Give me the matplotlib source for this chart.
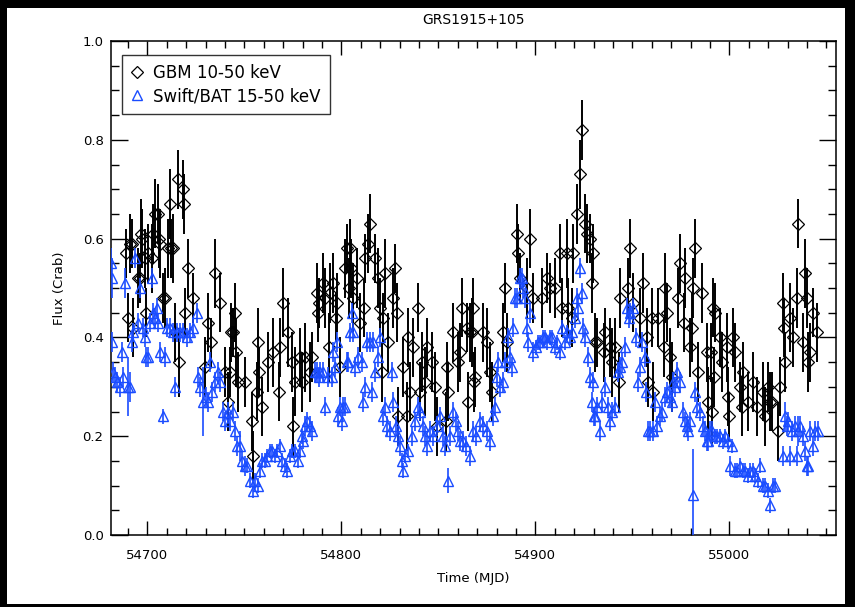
import matplotlib
matplotlib.use("Agg")
import matplotlib.pyplot as plt
from matplotlib.patches import Rectangle
from matplotlib.lines import Line2D
from matplotlib.ticker import MultipleLocator, FormatStrFormatter

# ---------------- data ----------------
TITLE = "GRS1915+105"
XLABEL = "Time (MJD)"
YLABEL = "Flux (Crab)"
GBM_LABEL = "GBM 10-50 keV"
BAT_LABEL = "Swift/BAT 15-50 keV"
X_TICKS = [54700, 54800, 54900, 55000]
Y_TICKS = [0.0, 0.2, 0.4, 0.6, 0.8, 1.0]

gbm_t = [
    54689.2, 54690.2, 54691.2, 54692.3, 54692.8, 54695.4, 54696.4, 54696.9, 54697.4, 54699.0,
    54699.5, 54700.5, 54702.6, 54703.1, 54704.1, 54705.7, 54706.2, 54706.7, 54708.2, 54709.3,
    54710.8, 54711.9, 54712.4, 54713.4, 54714.4, 54716.0, 54716.5, 54718.6, 54719.1, 54719.6,
    54721.1, 54723.7, 54729.9, 54731.4, 54733.0, 54735.1, 54737.6, 54740.2, 54741.8, 54742.8,
    54743.3, 54744.3, 54745.4, 54745.9, 54746.9, 54750.5, 54754.1, 54754.6, 54756.7, 54757.2,
    54757.7, 54759.3, 54762.4, 54765.0, 54768.1, 54768.6, 54770.1, 54772.7, 54774.7, 54775.3,
    54776.3, 54778.9, 54779.9, 54781.4, 54784.0, 54785.1, 54787.6, 54788.2, 54788.7, 54790.7,
    54791.8, 54793.8, 54794.3, 54795.9, 54797.4, 54797.9, 54799.5, 54802.1, 54803.1, 54804.1,
    54804.6, 54805.1, 54806.2, 54808.2, 54809.8, 54811.9, 54812.4, 54813.9, 54815.0, 54817.5,
    54819.1, 54820.1, 54821.2, 54821.7, 54822.7, 54824.3, 54826.8, 54827.8, 54828.9, 54829.4,
    54832.0, 54834.0, 54834.5, 54835.6, 54837.1, 54839.7, 54840.7, 54841.8, 54843.3, 54844.3,
    54846.9, 54848.5, 54849.5, 54854.2, 54854.7, 54855.2, 54857.7, 54860.3, 54861.4, 54862.4,
    54865.0, 54865.5, 54866.5, 54867.5, 54868.1, 54868.6, 54869.1, 54873.2, 54875.3, 54876.8,
    54877.8, 54883.5, 54884.5, 54885.6, 54890.7, 54891.3, 54892.3, 54895.9, 54897.4, 54899.0,
    54903.6, 54906.2, 54907.7, 54910.3, 54912.9, 54913.9, 54916.5, 54917.0, 54919.1, 54919.6,
    54921.7, 54923.2, 54924.2, 54925.8, 54926.8, 54928.4, 54929.4, 54929.9, 54930.9, 54932.0,
    54935.6, 54936.1, 54938.7, 54939.7, 54941.3, 54943.3, 54943.8, 54948.0, 54949.0, 54950.5,
    54954.1, 54955.7, 54957.8, 54958.3, 54960.3, 54960.8, 54963.4, 54966.5, 54967.0, 54968.1,
    54969.6, 54970.6, 54973.7, 54974.8, 54976.8, 54977.3, 54979.9, 54980.9, 54981.5, 54982.5,
    54984.0, 54986.1, 54988.7, 54989.2, 54990.8, 54991.3, 54991.8, 54992.3, 54992.8, 54995.4,
    54996.4, 54999.0, 54999.5, 55000.0, 55002.1, 55003.1, 55005.7, 55006.7, 55007.2, 55009.8,
    55012.4, 55014.5, 55017.5, 55018.6, 55020.1, 55021.2, 55022.2, 55025.3, 55026.3, 55027.9,
    55028.4, 55028.9, 55031.5, 55033.0, 55035.1, 55035.6, 55038.2, 55039.2, 55040.2, 55040.8,
    55041.8, 55043.3, 55045.4,
]
gbm_flux = [
    0.57, 0.44, 0.59, 0.59, 0.42, 0.52, 0.52, 0.61, 0.60, 0.56,
    0.45, 0.57, 0.56, 0.61, 0.65, 0.65, 0.60, 0.59, 0.48, 0.48,
    0.58, 0.67, 0.58, 0.58, 0.41, 0.72, 0.35, 0.70, 0.67, 0.45,
    0.54, 0.48, 0.34, 0.43, 0.39, 0.53, 0.47, 0.33, 0.27, 0.33,
    0.41, 0.41, 0.45, 0.37, 0.31, 0.31, 0.23, 0.16, 0.29, 0.39,
    0.33, 0.26, 0.35, 0.37, 0.29, 0.38, 0.47, 0.41, 0.35, 0.22,
    0.31, 0.36, 0.31, 0.36, 0.33, 0.36, 0.49, 0.45, 0.47, 0.51,
    0.48, 0.38, 0.49, 0.51, 0.44, 0.47, 0.34, 0.54, 0.58, 0.50,
    0.58, 0.54, 0.48, 0.52, 0.43, 0.46, 0.56, 0.59, 0.63, 0.56,
    0.52, 0.46, 0.33, 0.44, 0.53, 0.39, 0.48, 0.54, 0.45, 0.24,
    0.34, 0.24, 0.40, 0.29, 0.38, 0.46, 0.29, 0.35, 0.31, 0.38,
    0.35, 0.30, 0.22, 0.23, 0.34, 0.29, 0.41, 0.35, 0.37, 0.46,
    0.42, 0.27, 0.41, 0.41, 0.46, 0.31, 0.32, 0.41, 0.39, 0.33,
    0.29, 0.41, 0.50, 0.39, 0.61, 0.57, 0.52, 0.50, 0.60, 0.48,
    0.48, 0.52, 0.50, 0.50, 0.57, 0.46, 0.57, 0.46, 0.44, 0.57,
    0.65, 0.73, 0.82, 0.63, 0.61, 0.60, 0.51, 0.57, 0.39, 0.39,
    0.37, 0.41, 0.38, 0.35, 0.38, 0.31, 0.48, 0.50, 0.58, 0.47,
    0.44, 0.51, 0.40, 0.31, 0.44, 0.29, 0.44, 0.38, 0.50, 0.45,
    0.36, 0.32, 0.48, 0.55, 0.43, 0.52, 0.38, 0.42, 0.50, 0.58,
    0.33, 0.49, 0.37, 0.27, 0.37, 0.25, 0.46, 0.32, 0.45, 0.40,
    0.35, 0.38, 0.28, 0.24, 0.40, 0.37, 0.30, 0.26, 0.33, 0.27,
    0.31, 0.26, 0.29, 0.24, 0.30, 0.27, 0.27, 0.21, 0.30, 0.47,
    0.42, 0.35, 0.44, 0.40, 0.48, 0.63, 0.39, 0.53, 0.48, 0.35,
    0.37, 0.45, 0.41,
]
gbm_err = [
    0.05, 0.05, 0.06, 0.05, 0.06, 0.06, 0.05, 0.07, 0.06, 0.06,
    0.05, 0.06, 0.07, 0.06, 0.07, 0.06, 0.06, 0.07, 0.05, 0.06,
    0.06, 0.07, 0.06, 0.07, 0.06, 0.06, 0.07, 0.06, 0.06, 0.05,
    0.06, 0.05, 0.06, 0.06, 0.05, 0.07, 0.06, 0.05, 0.06, 0.05,
    0.06, 0.05, 0.06, 0.07, 0.06, 0.05, 0.06, 0.05, 0.06, 0.07,
    0.05, 0.06, 0.06, 0.07, 0.06, 0.06, 0.07, 0.07, 0.06, 0.06,
    0.07, 0.06, 0.06, 0.07, 0.06, 0.05, 0.06, 0.06, 0.05, 0.06,
    0.06, 0.07, 0.06, 0.06, 0.05, 0.06, 0.06, 0.06, 0.05, 0.06,
    0.06, 0.06, 0.07, 0.06, 0.06, 0.06, 0.05, 0.06, 0.06, 0.05,
    0.06, 0.06, 0.06, 0.05, 0.07, 0.06, 0.06, 0.05, 0.06, 0.06,
    0.06, 0.07, 0.06, 0.06, 0.06, 0.05, 0.06, 0.06, 0.07, 0.06,
    0.06, 0.07, 0.06, 0.06, 0.05, 0.06, 0.06, 0.06, 0.06, 0.06,
    0.05, 0.06, 0.06, 0.07, 0.06, 0.06, 0.06, 0.06, 0.07, 0.06,
    0.06, 0.06, 0.05, 0.06, 0.06, 0.06, 0.05, 0.06, 0.06, 0.05,
    0.06, 0.05, 0.05, 0.06, 0.06, 0.06, 0.07, 0.06, 0.06, 0.06,
    0.06, 0.07, 0.06, 0.06, 0.06, 0.05, 0.06, 0.06, 0.06, 0.05,
    0.06, 0.05, 0.06, 0.07, 0.06, 0.06, 0.06, 0.06, 0.06, 0.06,
    0.06, 0.06, 0.06, 0.05, 0.06, 0.06, 0.06, 0.06, 0.07, 0.06,
    0.06, 0.07, 0.06, 0.06, 0.06, 0.06, 0.06, 0.07, 0.06, 0.06,
    0.06, 0.06, 0.06, 0.07, 0.06, 0.07, 0.06, 0.06, 0.06, 0.06,
    0.06, 0.07, 0.06, 0.05, 0.06, 0.06, 0.05, 0.06, 0.06, 0.06,
    0.06, 0.06, 0.06, 0.06, 0.05, 0.06, 0.06, 0.06, 0.06, 0.06,
    0.06, 0.06, 0.07, 0.06, 0.06, 0.05, 0.06, 0.07, 0.06, 0.06,
    0.06, 0.05, 0.06,
]

bat_t = [
    54681.3, 54681.7, 54682.0, 54682.5, 54683.5, 54684.5, 54686.1, 54687.1, 54687.6, 54688.7,
    54690.2, 54691.2, 54692.3, 54692.8, 54693.8, 54695.4, 54696.4, 54697.9, 54699.0, 54699.5,
    54700.5, 54701.5, 54702.6, 54703.1, 54704.1, 54705.2, 54705.7, 54706.7, 54708.2, 54709.3,
    54710.3, 54711.9, 54713.4, 54714.4, 54715.5, 54717.0, 54718.6, 54720.6, 54722.2, 54723.7,
    54725.8, 54726.3, 54727.3, 54728.9, 54730.4, 54731.4, 54732.5, 54733.5, 54735.1, 54736.6,
    54737.6, 54739.2, 54740.2, 54741.8, 54742.8, 54744.3, 54745.4, 54746.4, 54747.9, 54749.0,
    54750.5, 54751.6, 54753.1, 54754.6, 54755.7, 54757.2, 54758.3, 54759.3, 54760.8, 54761.9,
    54763.4, 54764.4, 54766.0, 54767.0, 54768.6, 54769.6, 54771.1, 54772.2, 54773.7, 54774.7,
    54776.3, 54777.8, 54778.9, 54779.9, 54780.4, 54781.4, 54782.5, 54784.0, 54785.1, 54786.6,
    54787.6, 54788.7, 54789.2, 54790.7, 54791.8, 54793.3, 54795.4, 54795.9, 54796.9, 54797.9,
    54798.5, 54799.5, 54800.5, 54801.0, 54802.1, 54803.1, 54803.6, 54804.6, 54805.7, 54806.2,
    54807.2, 54808.8, 54810.8, 54811.3, 54812.4, 54813.4, 54815.0, 54816.0, 54816.5, 54817.5,
    54819.1, 54820.1, 54821.7, 54822.7, 54823.7, 54825.3, 54826.3, 54826.8, 54828.4, 54829.4,
    54830.4, 54831.5, 54832.0, 54833.0, 54834.5, 54836.6, 54838.2, 54839.7, 54840.7, 54842.3,
    54843.3, 54844.3, 54845.9, 54847.4, 54849.5, 54851.0, 54852.6, 54853.6, 54855.2, 54856.2,
    54857.7, 54859.3, 54860.3, 54861.4, 54862.9, 54864.4, 54866.5, 54868.1, 54869.6, 54871.7,
    54873.2, 54875.3, 54876.8, 54878.4, 54879.4, 54880.4, 54880.9, 54882.0, 54883.5, 54884.5,
    54886.1, 54887.1, 54888.2, 54888.7, 54889.7, 54890.7, 54892.3, 54893.3, 54893.8, 54894.9,
    54895.9, 54896.4, 54897.4, 54899.0, 54900.5, 54901.6, 54902.6, 54904.1, 54905.2, 54906.2,
    54907.7, 54908.8, 54910.3, 54911.4, 54912.9, 54913.9, 54915.5, 54916.5, 54918.1, 54919.1,
    54920.6, 54921.7, 54922.2, 54923.2, 54924.2, 54924.8, 54925.8, 54927.3, 54928.4, 54929.4,
    54929.9, 54930.4, 54930.9, 54932.0, 54933.5, 54934.6, 54936.1, 54937.6, 54938.7, 54939.7,
    54941.3, 54942.8, 54943.8, 54944.9, 54946.4, 54947.4, 54948.5, 54949.0, 54950.5, 54952.1,
    54953.1, 54954.1, 54955.2, 54956.7, 54957.2, 54958.3, 54959.3, 54960.8, 54961.9, 54962.9,
    54964.5, 54965.5, 54967.0, 54968.1, 54969.6, 54970.6, 54971.2, 54972.2, 54973.2, 54974.8,
    54976.3, 54977.3, 54978.4, 54978.9, 54979.9, 54981.5, 54982.5, 54983.5, 54985.1, 54986.6,
    54987.6, 54988.7, 54989.2, 54990.2, 54991.3, 54992.8, 54993.8, 54995.4, 54996.9, 54998.0,
    54999.5, 55000.5, 55001.6, 55003.1, 55004.1, 55005.7, 55007.2, 55008.3, 55009.8, 55010.8,
    55012.4, 55013.4, 55015.0, 55016.0, 55017.5, 55018.6, 55020.1, 55021.2, 55022.7, 55023.7,
    55027.9, 55028.9, 55029.9, 55030.4, 55031.5, 55032.5, 55034.0, 55035.1, 55035.6, 55036.6,
    55038.2, 55039.2, 55040.2, 55040.8, 55041.8, 55043.3, 55044.4, 55045.9,
]
bat_flux = [
    0.55, 0.52, 0.39, 0.33, 0.32, 0.31, 0.30, 0.37, 0.32, 0.51,
    0.30, 0.30, 0.39, 0.41, 0.56, 0.43, 0.50, 0.42, 0.40, 0.36,
    0.36, 0.43, 0.52, 0.45, 0.44, 0.46, 0.43, 0.37, 0.24, 0.36,
    0.42, 0.42, 0.41, 0.30, 0.41, 0.41, 0.41, 0.40, 0.41, 0.42,
    0.45, 0.32, 0.30, 0.27, 0.28, 0.27, 0.35, 0.29, 0.31, 0.33,
    0.31, 0.25, 0.23, 0.25, 0.23, 0.25, 0.21, 0.18, 0.18, 0.15,
    0.14, 0.14, 0.11, 0.09, 0.11, 0.10, 0.13, 0.15, 0.15, 0.16,
    0.17, 0.17, 0.16, 0.17, 0.18, 0.15, 0.14, 0.13, 0.16, 0.17,
    0.17, 0.15, 0.17, 0.20, 0.19, 0.22, 0.23, 0.22, 0.21, 0.33,
    0.33, 0.32, 0.33, 0.33, 0.26, 0.32, 0.32, 0.37, 0.34, 0.39,
    0.24, 0.26, 0.23, 0.26, 0.26, 0.35, 0.35, 0.41, 0.45, 0.41,
    0.34, 0.36, 0.35, 0.27, 0.30, 0.39, 0.39, 0.29, 0.39, 0.33,
    0.36, 0.40, 0.24, 0.26, 0.22, 0.21, 0.33, 0.27, 0.22, 0.20,
    0.18, 0.15, 0.13, 0.16, 0.17, 0.20, 0.23, 0.26, 0.25, 0.22,
    0.20, 0.18, 0.21, 0.20, 0.22, 0.24, 0.20, 0.18, 0.11, 0.20,
    0.25, 0.23, 0.21, 0.19, 0.19, 0.18, 0.16, 0.21, 0.20, 0.23,
    0.22, 0.21, 0.19, 0.24, 0.26, 0.32, 0.35, 0.30, 0.31, 0.35,
    0.40, 0.36, 0.34, 0.42, 0.48, 0.48, 0.52, 0.52, 0.50, 0.48,
    0.42, 0.39, 0.45, 0.37, 0.38, 0.39, 0.39, 0.40, 0.40, 0.39,
    0.40, 0.40, 0.38, 0.39, 0.37, 0.42, 0.39, 0.41, 0.40, 0.41,
    0.44, 0.48, 0.46, 0.54, 0.49, 0.42, 0.40, 0.36, 0.32, 0.27,
    0.31, 0.24, 0.24, 0.26, 0.21, 0.27, 0.30, 0.26, 0.23, 0.25,
    0.26, 0.33, 0.34, 0.35, 0.38, 0.46, 0.44, 0.45, 0.46, 0.40,
    0.31, 0.34, 0.39, 0.36, 0.29, 0.21, 0.21, 0.21, 0.27, 0.22,
    0.24, 0.25, 0.28, 0.29, 0.28, 0.27, 0.31, 0.30, 0.33, 0.31,
    0.25, 0.23, 0.22, 0.21, 0.23, 0.08, 0.29, 0.26, 0.25, 0.22,
    0.21, 0.19, 0.19, 0.21, 0.21, 0.20, 0.20, 0.20, 0.19, 0.20,
    0.19, 0.14, 0.18, 0.13, 0.13, 0.14, 0.13, 0.13, 0.12, 0.13,
    0.13, 0.12, 0.11, 0.14, 0.10, 0.10, 0.09, 0.06, 0.10, 0.10,
    0.16, 0.24, 0.22, 0.23, 0.16, 0.21, 0.22, 0.16, 0.21, 0.22,
    0.20, 0.17, 0.14, 0.14, 0.21, 0.18, 0.21, 0.21,
]
bat_err = [
    0.03, 0.04, 0.02, 0.02, 0.02, 0.02, 0.02, 0.02, 0.02, 0.03,
    0.06, 0.03, 0.02, 0.02, 0.02, 0.02, 0.02, 0.02, 0.02, 0.02,
    0.02, 0.02, 0.02, 0.02, 0.02, 0.02, 0.02, 0.02, 0.015, 0.02,
    0.02, 0.02, 0.02, 0.02, 0.02, 0.02, 0.02, 0.02, 0.02, 0.02,
    0.02, 0.02, 0.02, 0.07, 0.02, 0.02, 0.02, 0.02, 0.02, 0.02,
    0.02, 0.02, 0.02, 0.02, 0.02, 0.02, 0.02, 0.02, 0.03, 0.02,
    0.02, 0.015, 0.015, 0.015, 0.015, 0.015, 0.015, 0.015, 0.015, 0.015,
    0.015, 0.015, 0.015, 0.015, 0.015, 0.015, 0.015, 0.015, 0.015, 0.015,
    0.015, 0.015, 0.015, 0.015, 0.015, 0.02, 0.02, 0.02, 0.02, 0.02,
    0.02, 0.02, 0.02, 0.02, 0.02, 0.02, 0.02, 0.02, 0.02, 0.02,
    0.02, 0.02, 0.02, 0.02, 0.02, 0.02, 0.02, 0.02, 0.02, 0.02,
    0.02, 0.02, 0.02, 0.02, 0.02, 0.02, 0.02, 0.02, 0.02, 0.02,
    0.02, 0.02, 0.02, 0.02, 0.02, 0.02, 0.02, 0.02, 0.02, 0.02,
    0.02, 0.015, 0.015, 0.015, 0.015, 0.02, 0.02, 0.02, 0.02, 0.02,
    0.02, 0.02, 0.02, 0.02, 0.02, 0.02, 0.02, 0.02, 0.025, 0.02,
    0.02, 0.02, 0.02, 0.02, 0.02, 0.02, 0.02, 0.02, 0.02, 0.02,
    0.02, 0.02, 0.02, 0.02, 0.02, 0.02, 0.02, 0.02, 0.02, 0.02,
    0.02, 0.02, 0.02, 0.02, 0.02, 0.02, 0.02, 0.02, 0.02, 0.02,
    0.02, 0.02, 0.02, 0.02, 0.015, 0.015, 0.015, 0.015, 0.015, 0.015,
    0.015, 0.015, 0.015, 0.015, 0.015, 0.015, 0.015, 0.015, 0.015, 0.015,
    0.02, 0.02, 0.02, 0.02, 0.02, 0.02, 0.02, 0.02, 0.02, 0.02,
    0.02, 0.02, 0.02, 0.02, 0.02, 0.02, 0.02, 0.02, 0.02, 0.02,
    0.02, 0.02, 0.02, 0.02, 0.02, 0.02, 0.02, 0.02, 0.02, 0.02,
    0.02, 0.02, 0.02, 0.02, 0.02, 0.02, 0.02, 0.02, 0.02, 0.02,
    0.02, 0.02, 0.02, 0.02, 0.02, 0.02, 0.02, 0.02, 0.02, 0.02,
    0.02, 0.02, 0.02, 0.02, 0.02, 0.095, 0.02, 0.02, 0.02, 0.02,
    0.02, 0.02, 0.02, 0.02, 0.02, 0.015, 0.015, 0.015, 0.015, 0.015,
    0.015, 0.02, 0.015, 0.015, 0.015, 0.015, 0.015, 0.015, 0.015, 0.015,
    0.015, 0.015, 0.015, 0.015, 0.015, 0.015, 0.015, 0.015, 0.015, 0.015,
    0.02, 0.03, 0.02, 0.02, 0.02, 0.02, 0.02, 0.02, 0.03, 0.02,
    0.02, 0.02, 0.02, 0.02, 0.02, 0.02, 0.02, 0.02,
]

# ---------------- figure ----------------
W, H = 855, 607
plt.rcParams["font.family"] = ["DejaVu Sans"]
fig = plt.figure(figsize=(W / 100, H / 100), dpi=100, facecolor="black")
fig.patches.append(Rectangle((7 / W, 3 / H), 838 / W, 596 / H,
                             transform=fig.transFigure, facecolor="white",
                             edgecolor="none", zorder=-10))

ax_l, ax_r, ax_t, ax_b = 110.5, 836, 41, 535
ax = fig.add_axes([ax_l / W, (H - ax_b) / H, (ax_r - ax_l) / W, (ax_b - ax_t) / H])
ax.set_zorder(5)
ax.set_facecolor("white")

BLUE = "#1a4cff"
ax.errorbar(gbm_t, gbm_flux, yerr=gbm_err, fmt="D", mfc="none", mec="black",
            ms=5.8, mew=0.9, ecolor="black", elinewidth=1.4, capsize=0,
            linestyle="none", zorder=2)
ax.errorbar(bat_t, bat_flux, yerr=bat_err, fmt="^", mfc="none", mec=BLUE,
            ms=7.0, mew=1.0, ecolor=BLUE, elinewidth=1.2, capsize=0,
            linestyle="none", zorder=3)

ax.set_xlim(54681, 55055)
ax.set_ylim(0.0, 1.0)
ax.set_xticks(X_TICKS)
ax.set_yticks(Y_TICKS)
ax.xaxis.set_minor_locator(MultipleLocator(10))
ax.yaxis.set_minor_locator(MultipleLocator(0.05))
ax.yaxis.set_major_formatter(FormatStrFormatter("%.1f"))
ax.tick_params(which="both", direction="in", top=True, right=True,
               width=1.0, labelsize=9.5, colors="black")
ax.tick_params(axis="x", which="major", length=10, pad=10)
ax.tick_params(axis="x", which="minor", length=5)
ax.tick_params(axis="y", which="major", length=12, pad=5)
ax.tick_params(axis="y", which="minor", length=6)
for s in ax.spines.values():
    s.set_linewidth(1.1)
    s.set_color("black")

ax.set_title(TITLE, fontsize=10, pad=12)
ax.set_xlabel(XLABEL, fontsize=9.5)
ax.set_ylabel(YLABEL, fontsize=9.5)
ax.xaxis.set_label_coords(0.5, -0.075)
ax.yaxis.set_label_coords(-0.062, 0.5)

handles = [
    Line2D([], [], marker="D", ms=5.8, mfc="none", mec="black", mew=0.9, linestyle="none"),
    Line2D([], [], marker="^", ms=7.0, mfc="none", mec=BLUE, mew=1.0, linestyle="none"),
]
leg = ax.legend(handles, [GBM_LABEL, BAT_LABEL], loc="upper left",
                bbox_to_anchor=((122 - ax_l) / (ax_r - ax_l), (ax_b - 55) / (ax_b - ax_t)),
                borderaxespad=0, frameon=True, fancybox=False, edgecolor="black",
                fontsize=12, handlelength=0.7, handletextpad=0.6,
                borderpad=0.55, labelspacing=0.3)
leg.get_frame().set_linewidth(1.0)

fig.savefig("out.png", dpi=100, facecolor=fig.get_facecolor())
